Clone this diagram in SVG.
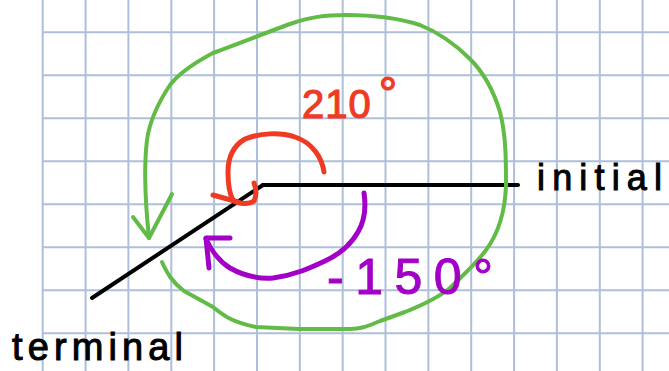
<svg xmlns="http://www.w3.org/2000/svg" width="669" height="371" viewBox="0 0 669 371">
  <style>
    .grid line { stroke: #aebfdb; stroke-width: 2; }
    .ink { fill: none; stroke-linecap: round; stroke-linejoin: round; }
    .black { stroke: #000000; stroke-width: 4; }
    .green { stroke: #62bb46; stroke-width: 4; }
    .red { stroke: #ef3b24; stroke-width: 5; }
    .purple { stroke: #a200c6; stroke-width: 5; }
    .lbl { font-family: "Liberation Sans", Arial, sans-serif; }
  </style>
  <rect width="669" height="371" fill="#ffffff"/>
  <g id="grid" class="grid">
    <line x1="42.7" y1="0" x2="42.7" y2="371"/>
    <line x1="85.6" y1="0" x2="85.6" y2="371"/>
    <line x1="128.4" y1="0" x2="128.4" y2="371"/>
    <line x1="171.3" y1="0" x2="171.3" y2="371"/>
    <line x1="214.1" y1="0" x2="214.1" y2="371"/>
    <line x1="257" y1="0" x2="257" y2="371"/>
    <line x1="299.8" y1="0" x2="299.8" y2="371"/>
    <line x1="342.7" y1="0" x2="342.7" y2="371"/>
    <line x1="385.5" y1="0" x2="385.5" y2="371"/>
    <line x1="428.4" y1="0" x2="428.4" y2="371"/>
    <line x1="471.2" y1="0" x2="471.2" y2="371"/>
    <line x1="514.1" y1="0" x2="514.1" y2="371"/>
    <line x1="556.9" y1="0" x2="556.9" y2="371"/>
    <line x1="599.8" y1="0" x2="599.8" y2="371"/>
    <line x1="642.6" y1="0" x2="642.6" y2="371"/>
    <line x1="42.7" y1="32.3" x2="669" y2="32.3"/>
    <line x1="42.7" y1="75.3" x2="669" y2="75.3"/>
    <line x1="42.7" y1="118.3" x2="669" y2="118.3"/>
    <line x1="42.7" y1="161.3" x2="669" y2="161.3"/>
    <line x1="42.7" y1="204.3" x2="669" y2="204.3"/>
    <line x1="42.7" y1="247.3" x2="669" y2="247.3"/>
    <line x1="42.7" y1="290.3" x2="669" y2="290.3"/>
    <line x1="42.7" y1="333.3" x2="669" y2="333.3"/>
  </g>
  <g id="rays" class="ink black">
    <path id="terminal-side" d="M92,298 L263,185"/>
    <path id="initial-side" d="M263,185 L518,185"/>
  </g>
  <g id="connectors" class="ink">
    <path id="arc-green" class="green" d="M162,262 C167,273 172,282 184,291 L213,307 C224,316 232,322 256,327 L299,329 L350,329 C360,329 366,327 380,321 L405,312 C420,306 438,298 450,288 C462,276 476,264 486,250 C498,234 505,215 506,185 C506,160 506,135 500,112 C494,92 484,73 470,59 C456,45 440,33 420,25 C395,17 370,15 346,15 C325,15 310,17 290,24 C268,32 240,43 213,53 C196,62 180,72 170,85 C160,100 150,118 147,140 C144,165 145,200 149,238"/>
    <path class="green" d="M133,217 L149,238 L172,194"/>
    <path id="arc-red" class="red" d="M324,172 C322,158 313,143 295,137 C280,132 260,133 245,139 C233,146 228,158 228,172 C228,184 229,193 233,200 C238,204 248,205 254,201 C257,195 256,188 254,183"/>
    <path class="red" d="M213,195 L238,202"/>
    <path id="arc-purple" class="purple" d="M364,193 C366,206 365,220 358,232 C350,246 338,255 325,261 C310,268 295,275 273,278 C258,279 244,276 230,268 C220,262 211,250 206,239"/>
    <path class="purple" d="M230,238 L206,238 L209,268"/>
  </g>
  <g id="label-210">
    <text class="lbl" x="302" y="118" font-size="40" fill="#ef3b24" stroke="#ef3b24" stroke-width="1.2" letter-spacing="1">210<tspan dx="7" dy="-8" font-size="46">°</tspan></text>
  </g>
  <g id="label-minus150">
    <text class="lbl" x="327" y="294" font-size="50" fill="#a200c6" stroke="#a200c6" stroke-width="1" textLength="166" lengthAdjust="spacing">-150°</text>
  </g>
  <g id="label-initial">
    <text class="lbl" x="537" y="190" font-size="36" fill="#000000" stroke="#000000" stroke-width="1" textLength="125" lengthAdjust="spacing">initial</text>
  </g>
  <g id="label-terminal">
    <text class="lbl" x="12" y="360" font-size="38" fill="#000000" stroke="#000000" stroke-width="1" textLength="171" lengthAdjust="spacing">terminal</text>
  </g>
</svg>
